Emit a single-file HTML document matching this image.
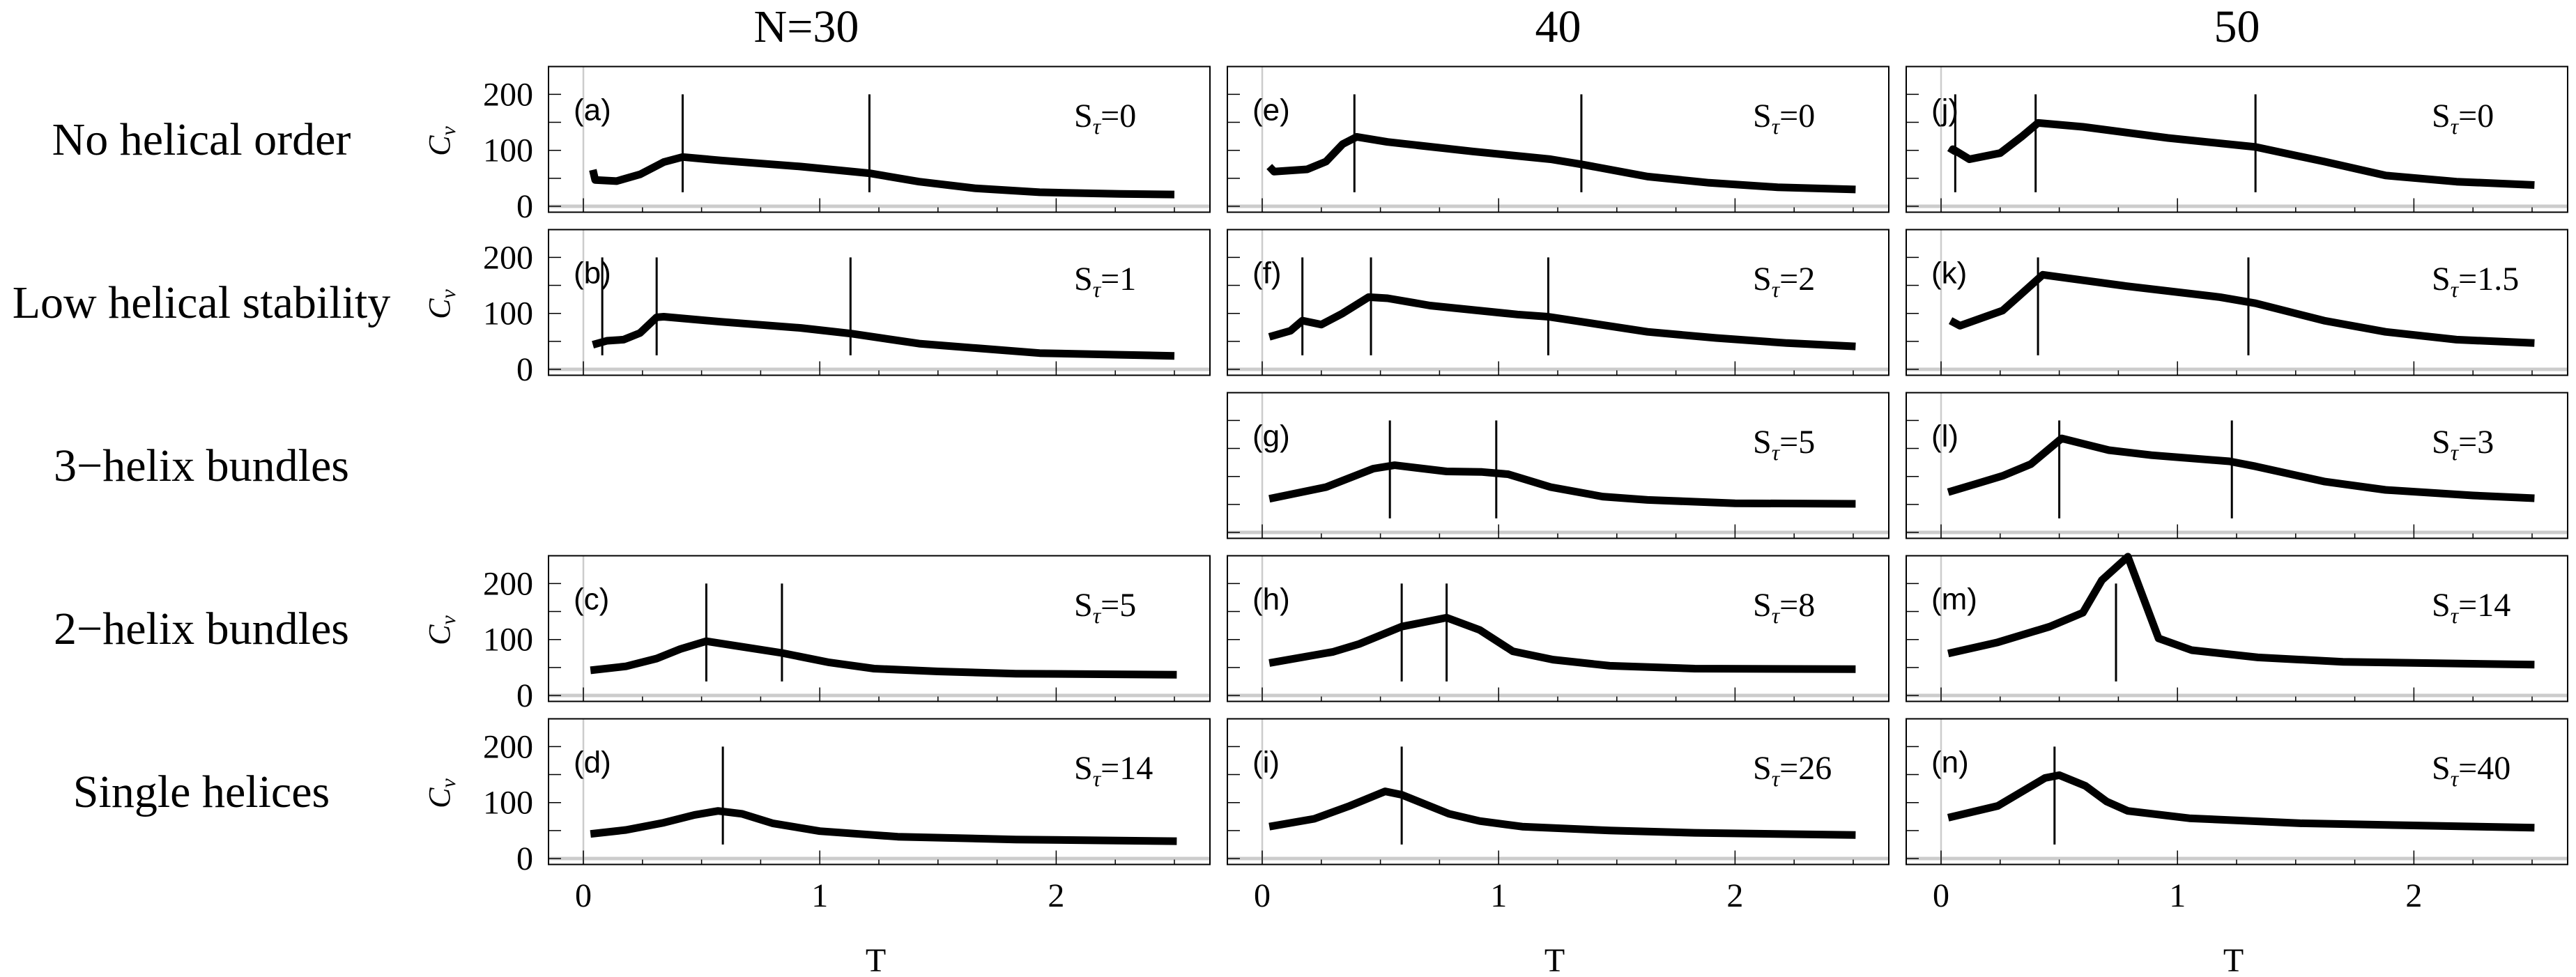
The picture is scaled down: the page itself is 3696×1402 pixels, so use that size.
<!DOCTYPE html>
<html><head><meta charset="utf-8">
<style>
html,body{margin:0;padding:0;background:#fff;}
svg{display:block;}
text{font-family:"Liberation Serif",serif;fill:#000;}
.sans{font-family:"Liberation Sans",sans-serif;}
</style></head>
<body>
<svg id="fig" width="3696" height="1402" viewBox="0 0 3696 1402" xmlns="http://www.w3.org/2000/svg"></svg>
<script>
// ---- data ----
const panelIds = ["a","b","c","d","e","f","g","h","i","j","k","l","m","n"];
const panelCol = [0,0,0,0,1,1,1,1,1,2,2,2,2,2];
const panelRow = [0,1,3,4,0,1,2,3,4,0,1,2,3,4];
const panelS   = ["0","1","5","14","0","2","5","8","26","0","1.5","3","14","40"];
const colHeaders = ["N=30","40","50"];
const rowLabels = ["No helical order","Low helical stability","3\u2212helix bundles","2\u2212helix bundles","Single helices"];
const xTickLabels = [0,1,2];
const yTickLabels = [0,100,200];

const T_a=[.04,.05,.14,.24,.34,.42,.58,.92,1.21,1.42,1.66,1.93,2.27,2.5];
const C_a=[65,47,45,57,79,88,82,71,59,44,32,25,22,21];
const M_a=[0.42,1.21];
const T_b=[.04,.1,.17,.24,.31,.34,.58,.92,1.13,1.42,1.66,1.93,2.27,2.5];
const C_b=[44,51,53,65,93,94,85,74,64,46,38,29,26,24];
const M_b=[0.08,0.31,1.13];
const T_c=[.03,.18,.31,.41,.52,.67,.84,1.04,1.23,1.5,1.83,2.51];
const C_c=[45,52,66,83,97,87,76,59,48,43,39,37];
const M_c=[0.52,0.84];
const T_d=[.03,.18,.34,.47,.57,.67,.8,1.0,1.33,1.83,2.51];
const C_d=[44,51,64,78,85,80,63,49,39,34,31];
const M_d=[0.59];
const T_e=[.03,.05,.19,.27,.34,.40,.53,.89,1.22,1.35,1.63,1.89,2.18,2.51];
const C_e=[71,62,66,80,111,124,115,98,84,75,53,42,34,30];
const M_e=[0.39,1.35];
const T_f=[.03,.12,.17,.25,.34,.45,.53,.71,1.08,1.21,1.63,1.92,2.22,2.51];
const C_f=[58,69,87,80,100,129,127,114,98,94,67,56,47,41];
const M_f=[0.17,0.46,1.21];
const T_g=[.03,.27,.47,.56,.78,.93,1.04,1.22,1.44,1.63,2.0,2.51];
const C_g=[60,81,114,120,109,108,104,81,64,58,52,51];
const M_g=[0.54,0.99];
const T_h=[.03,.30,.41,.59,.78,.92,1.06,1.23,1.47,1.83,2.51];
const C_h=[58,78,92,123,139,117,79,64,53,48,47];
const M_h=[0.59,0.78];
const T_i=[.03,.22,.37,.52,.59,.79,.92,1.1,1.47,1.83,2.51];
const C_i=[57,71,94,120,114,80,67,57,50,46,42];
const M_i=[0.59];
const T_j=[.04,.05,.12,.25,.34,.41,.6,.96,1.33,1.62,1.88,2.18,2.51];
const C_j=[95,102,84,95,124,149,142,122,106,80,55,44,38];
const M_j=[0.06,0.40,1.33];
const T_k=[.04,.08,.26,.33,.43,.78,1.18,1.33,1.62,1.88,2.18,2.51];
const C_k=[87,78,105,131,169,149,129,118,87,67,53,47];
const M_k=[0.41,1.3];
const T_l=[.03,.15,.26,.38,.51,.71,.89,1.22,1.33,1.62,1.88,2.25,2.51];
const C_l=[72,87,101,122,168,147,138,127,118,91,76,66,61];
const M_l=[0.5,1.23];
const T_m=[.03,.24,.46,.6,.68,.79,.92,1.06,1.34,1.7,2.51];
const C_m=[75,95,123,148,206,248,102,81,68,60,55];
const M_m=[0.74];
const T_n=[.03,.24,.44,.50,.61,.70,.79,1.05,1.52,2.51];
const C_n=[73,94,144,149,130,102,85,72,63,55];
const M_n=[0.48];

const seriesT={a:T_a,b:T_b,c:T_c,d:T_d,e:T_e,f:T_f,g:T_g,h:T_h,i:T_i,j:T_j,k:T_k,l:T_l,m:T_m,n:T_n};
const seriesC={a:C_a,b:C_b,c:C_c,d:C_d,e:C_e,f:C_f,g:C_g,h:C_h,i:C_i,j:C_j,k:C_k,l:C_l,m:C_m,n:C_n};
const seriesM={a:M_a,b:M_b,c:M_c,d:M_d,e:M_e,f:M_f,g:M_g,h:M_h,i:M_i,j:M_j,k:M_k,l:M_l,m:M_m,n:M_n};

// ---- layout ----
const NS="http://www.w3.org/2000/svg";
const svg=document.getElementById('fig');
const colLeft=[787,1761,2735], rowTop=[95.5,329.5,563.5,797.5,1031.5];
const PW=949, PH=209, X0=50, XS=339.2, Y0=200.5, YS=0.803;
function mk(tag,attrs,parent){const e=document.createElementNS(NS,tag);for(const k in attrs)e.setAttribute(k,attrs[k]);(parent||svg).appendChild(e);return e;}
function xs(c,t){return colLeft[c]+X0+t*XS;}
function ys(r,v){return rowTop[r]+Y0-v*YS;}

colHeaders.forEach((h,c)=>{
  const cx=c===0?1157:colLeft[c]+PW/2;
  const t=mk('text',{x:cx,y:60,'text-anchor':'middle','font-size':66});
  
  
  t.textContent=h;
});
rowLabels.forEach((l,r)=>{
  const t=mk('text',{x:289,y:rowTop[r]+PH/2+22,'text-anchor':'middle','font-size':66});
  
  
  t.textContent=l;
});

panelIds.forEach((id,p)=>{
  const c=panelCol[p], r=panelRow[p], L=colLeft[c], T=rowTop[r];
  const g=mk('g',{});
  
  
  // gray axes
  mk('line',{x1:L,x2:L+PW,y1:ys(r,0),y2:ys(r,0),stroke:'#cccccc','stroke-width':5},g);
  mk('line',{x1:xs(c,0),x2:xs(c,0),y1:T,y2:T+PH,stroke:'#cccccc','stroke-width':2.5},g);
  // x ticks
  for(let k=0;k<=10;k++){const x=xs(c,k*0.25);const len=(k%4===0)?20:7;
    mk('line',{x1:x,x2:x,y1:T+PH,y2:T+PH-len,stroke:'#000','stroke-width':1.5},g);}
  // y ticks
  for(let v=0;v<=200;v+=50){mk('line',{x1:L,x2:L+18,y1:ys(r,v),y2:ys(r,v),stroke:'#000','stroke-width':1.5},g);}
  // frame
  const fr=mk('rect',{x:L,y:T,width:PW,height:PH,fill:'none',stroke:'#000','stroke-width':2},g);
  
  
  // markers
  seriesM[id].forEach((m,k)=>{
    const ln=mk('line',{x1:xs(c,m),x2:xs(c,m),y1:ys(r,200),y2:ys(r,25),stroke:'#000','stroke-width':3},g);
    
    
  });
  // curve
  const pts=seriesT[id].map((t,k)=>xs(c,t).toFixed(1)+','+ys(r,seriesC[id][k]).toFixed(1)).join(' ');
  const pl=mk('polyline',{points:pts,fill:'none',stroke:'#000','stroke-width':11,'stroke-linejoin':'round'},g);
  
  
  // panel letter
  const lt=mk('text',{x:L+36,y:T+77,'font-size':44,class:'sans'},g);
  
  
  lt.textContent='('+id+')';
  // S tau label
  const st=mk('text',{x:L+754,y:T+86.5,'font-size':48},g);
  
  
  st.innerHTML='S<tspan font-size="32" font-style="italic" dy="10">\u03c4</tspan><tspan dy="-10">='+panelS[p]+'</tspan>';
  // y tick labels and axis title for col 0
  if(c===0){
    yTickLabels.forEach(v=>{
      const yl=mk('text',{x:765,y:ys(r,v)+16,'text-anchor':'end','font-size':48},g);
      
      
      yl.textContent=v;
    });
    const cy=T+107;
    const yt=mk('text',{x:0,y:0,transform:'translate(645,'+cy+') rotate(-90)','text-anchor':'middle','font-size':44},g);
    
    
    yt.innerHTML='<tspan font-style="italic">C</tspan><tspan font-size="30" font-style="italic" dy="8">\u03bd</tspan>';
  }
});

[0,1,2].forEach(c=>{
  xTickLabels.forEach(v=>{
    const t=mk('text',{x:xs(c,v),y:1301,'text-anchor':'middle','font-size':48});
    
    
    t.textContent=v;
  });
  const xt=mk('text',{x:colLeft[c]+PW/2-5,y:1394,'text-anchor':'middle','font-size':48});
  
  
  xt.textContent='T';
});
</script>
</body></html>
